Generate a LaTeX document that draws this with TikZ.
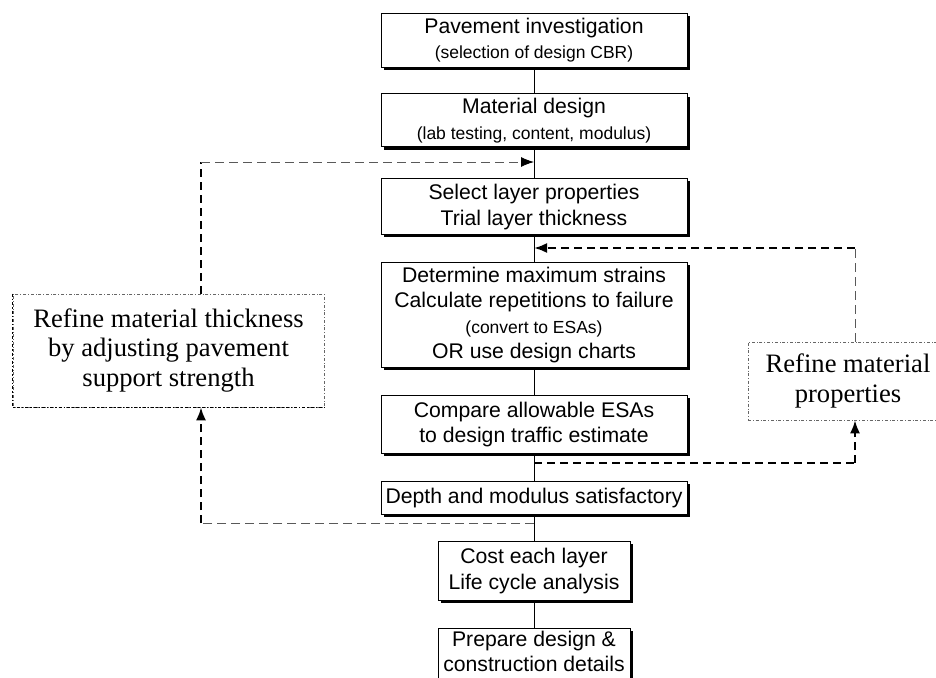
\documentclass[tikz,border=0pt]{standalone}
\usepackage{fontspec}
\setmainfont{Liberation Serif}
\setsansfont{Liberation Sans}
\usepackage{tikz}
\usetikzlibrary{positioning,shadows,arrows.meta}

\newcommand{\smalltxt}{\fontsize{17.5}{22}\selectfont}

\begin{document}
\begin{tikzpicture}[x=1pt, y=-1pt,
box/.style={rectangle, draw=black, fill=white, line width=0.9pt, minimum width=306pt, align=center, inner sep=2pt,
  font=\sffamily\fontsize{21.2}{25.5}\selectfont,
  drop shadow={shadow xshift=2.6pt, shadow yshift=-2.6pt, fill=black, opacity=1}},
note/.style={rectangle, draw=black!60, fill=white, line width=0.6pt, dash dot, align=center,
  font=\rmfamily\fontsize{26.6}{29.5}\selectfont},
flow/.style={line width=0.9pt},
fbthick/.style={line width=2.2pt, dash pattern=on 8pt off 5pt},
fbthin/.style={line width=0.9pt, draw=black!65, dash pattern=on 9pt off 5pt},
tip/.style={-{Latex[length=13pt, width=10pt, color=black]}}
]
\useasboundingbox (0,0) rectangle (936,677);
%Nodes
\node[box, minimum height=54pt]  (b1) at (534,40)          {Pavement investigation\\{\smalltxt (selection of design CBR)}};
\node[box, minimum height=53pt]  (b2) [below=26pt of b1]   {Material design\\{\smalltxt (lab testing, content, modulus)}};
\node[box, minimum height=56pt]  (b3) [below=31pt of b2]   {Select layer properties\\Trial layer thickness};
\node[box, minimum height=105pt] (b4) [below=27pt of b3]   {Determine maximum strains\\Calculate repetitions to failure\\{\smalltxt (convert to ESAs)}\\OR use design charts};
\node[box, minimum height=58pt]  (b5) [below=27pt of b4]   {Compare allowable ESAs\\to design traffic estimate};
\node[box, minimum height=33pt]  (b6) [below=27pt of b5]   {Depth and modulus satisfactory};
\node[box, minimum height=59pt, minimum width=192pt] (b7) [below=26pt of b6] {Cost each layer\\Life cycle analysis};
\node[box, minimum height=63pt, minimum width=192pt, text depth=17pt] (b8) [below=27pt of b7] {Prepare design \&\\construction details};

\node[note, minimum width=311pt, minimum height=113pt] (lb) at (168.5,350.5) {Refine material thickness\\by adjusting pavement\\support strength};
\node[note, minimum width=200pt, minimum height=78pt]  (rb) at (848,381)     {Refine material\\properties};
\draw[line width=1.4pt, dash dot] (lb.north west) -- (lb.south west) -- (lb.south east);

%Points on the main line
\coordinate (j1) at (534,523);
\coordinate (j2) at (534,162);
\coordinate (j3) at (534,463);
\coordinate (j4) at (534,248);
\coordinate (lfoot) at (201,523);
\coordinate (lhead) at (201,162);
\coordinate (rfoot) at (855,463);
\coordinate (rhead) at (855,248);

%Lines
\draw[flow] (b1) -- (b2);
\draw[flow] (b2) -- (b3);
\draw[flow] (b3) -- (b4);
\draw[flow] (b4) -- (b5);
\draw[flow] (b5) -- (b6);
\draw[flow] (b6) -- (b7);
\draw[flow] (b7) -- (b8);

%Left loop
\draw[fbthin] (j1) -- (lfoot);
\draw[fbthick, tip] (lfoot) -- (lfoot |- lb.south);
\draw[fbthick] (lb.north -| lhead) -- (lhead);
\draw[fbthin, tip] (lhead) -- (j2);

%Right loop
\draw[fbthick] (j3) -- (rfoot);
\draw[fbthick, tip] (rfoot) -- (rfoot |- rb.south);
\draw[fbthin] (rb.north -| rhead) -- (rhead);
\draw[fbthick, tip] (rhead) -- (j4);
\end{tikzpicture}
\end{document}
